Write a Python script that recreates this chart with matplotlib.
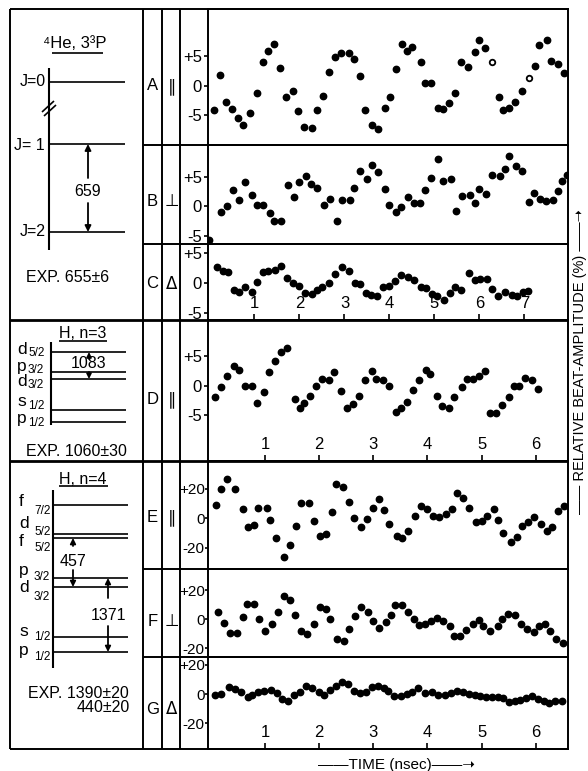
import matplotlib.pyplot as plt

plt.rcParams['font.family'] = ['Liberation Sans', 'DejaVu Sans']

# 4He 3^3P : time (nsec) and relative beat amplitude (%)
tA = [0.10, 0.23, 0.37, 0.51, 0.63, 0.75, 0.91, 1.05, 1.18, 1.31, 1.43, 1.57, 1.71, 1.86, 1.97,
      2.11, 2.27, 2.40, 2.52, 2.66, 2.80, 2.92, 3.09, 3.21, 3.34, 3.46, 3.62, 3.74, 3.89, 4.01,
      4.14, 4.28, 4.40, 4.51, 4.71, 4.79, 4.92, 5.07, 5.20, 5.33, 5.46, 5.59, 5.74, 5.89, 6.00,
      6.12, 6.27, 6.43, 6.53, 6.66, 6.79, 6.94, 7.10, 7.23, 7.32, 7.49, 7.59, 7.74, 7.87]
vA = [-4.07, 1.86, -2.77, -3.95, -5.48, -6.67, -4.63, -1.24, 4.07, 5.99, 7.12, 2.99, -1.92, -0.79,
      -4.29, -6.89, -7.06, -4.07, -1.69, 2.43, 4.97, 5.65, 5.65, 4.52, 1.64, -4.12, -6.67, -7.29,
      -3.79, -1.81, 2.88, 7.12, 5.93, 6.55, 4.12, 0.45, 0.56, -3.79, -3.95, -2.82, -1.13, 4.01,
      3.28, 5.82, 7.74, 6.44, 4.07, -1.86, -4.07, -3.79, -2.77, -0.85, 1.30, 3.39, 6.95, 7.80,
      4.18, 3.79, 2.15]
A_open = [46, 52]

tB = [0.00, 0.26, 0.39, 0.52, 0.66, 0.79, 0.94, 1.06, 1.20, 1.34, 1.44, 1.59, 1.74, 1.87, 2.00,
      2.14, 2.26, 2.39, 2.54, 2.67, 2.83, 2.95, 3.12, 3.22, 3.34, 3.50, 3.62, 3.75, 3.89, 4.00,
      4.14, 4.26, 4.41, 4.54, 4.68, 4.80, 4.93, 5.07, 5.19, 5.36, 5.48, 5.61, 5.78, 5.89, 6.00,
      6.14, 6.28, 6.45, 6.56, 6.66, 6.81, 6.95, 7.10, 7.22, 7.34, 7.47, 7.63, 7.75, 7.83, 7.94]
vB = [-5.70, -0.93, 0.03, 2.80, 1.10, 4.10, 1.89, 0.20, 0.20, -1.16, -2.40, -2.40, 3.59, 1.67,
      4.15, 5.23, 3.81, 3.08, 0.25, 1.21, -2.40, 1.10, 1.10, 3.08, 6.07, 4.60, 6.98, 5.90, 2.91,
      0.31, -0.99, -0.03, 1.67, 0.54, 0.54, 2.80, 4.89, 8.11, 4.38, 4.60, -0.71, 1.78, 1.89, 0.54,
      2.97, 2.12, 5.40, 5.17, 6.30, 8.62, 6.86, 6.02, 0.71, 2.23, 1.27, 0.88, 1.10, 2.63, 4.32, 5.34]

tC = [0.16, 0.29, 0.42, 0.54, 0.66, 0.80, 0.94, 1.06, 1.18, 1.31, 1.46, 1.60, 1.72, 1.86, 2.00,
      2.13, 2.27, 2.39, 2.51, 2.66, 2.80, 2.94, 3.10, 3.23, 3.34, 3.47, 3.60, 3.73, 3.85, 3.99,
      4.12, 4.26, 4.41, 4.54, 4.69, 4.81, 4.94, 5.06, 5.21, 5.34, 5.46, 5.60, 5.76, 5.89, 6.02,
      6.17, 6.27, 6.42, 6.57, 6.72, 6.84, 6.96, 7.07]
vC = [2.64, 1.92, 1.81, -1.25, -1.64, -0.81, -1.53, 0.14, 1.81, 1.97, 2.08, 2.75, 0.69, -0.14,
      -0.58, -1.69, -1.86, -1.25, -0.69, -0.14, 1.36, 2.64, 1.92, -0.14, -0.25, -1.69, -2.08,
      -2.19, -0.81, -0.58, 0.25, 1.19, 0.86, 0.42, -0.81, -0.97, -1.97, -2.19, -2.92, -1.81,
      -0.69, -1.25, 1.64, 0.42, 0.53, 0.53, -1.14, -2.25, -1.58, -2.08, -2.25, -1.64, -1.42]

# H n=3
tD = [0.08, 0.19, 0.30, 0.43, 0.53, 0.63, 0.76, 0.86, 0.98, 1.08, 1.19, 1.29, 1.41, 1.56, 1.64,
      1.73, 1.84, 1.95, 2.05, 2.18, 2.28, 2.41, 2.52, 2.62, 2.74, 2.85, 2.97, 3.06, 3.18, 3.30,
      3.42, 3.52, 3.62, 3.73, 3.84, 3.97, 4.05, 4.17, 4.27, 4.39, 4.50, 4.64, 4.73, 4.84, 4.95,
      5.06, 5.15, 5.27, 5.37, 5.50, 5.59, 5.69, 5.80, 5.94, 6.05]
vD = [-1.85, -0.17, 1.57, 3.31, 2.58, -0.11, -0.11, -2.98, -1.07, 2.30, 4.21, 5.62, 6.29, -2.30,
      -3.82, -2.98, -1.80, 0.00, 1.18, 1.01, 2.30, -0.90, -3.82, -3.15, -1.74, 0.90, 2.42, 1.07,
      0.96, 0.00, -4.49, -3.82, -2.75, -0.73, 0.90, 2.70, 1.97, -1.69, -3.37, -3.82, -1.97, -0.28,
      1.12, 1.12, 1.69, 2.53, -4.66, -4.66, -3.26, -1.85, 0.00, 0.00, 1.24, 1.01, -0.56]

# H n=4
tE = [0.10, 0.19, 0.30, 0.45, 0.59, 0.68, 0.80, 0.88, 1.03, 1.09, 1.21, 1.36, 1.47, 1.58, 1.67,
      1.82, 1.91, 2.01, 2.13, 2.23, 2.31, 2.44, 2.56, 2.65, 2.77, 2.89, 3.00, 3.10, 3.20, 3.30,
      3.43, 3.54, 3.64, 3.77, 3.88, 3.99, 4.11, 4.22, 4.34, 4.45, 4.54, 4.65, 4.76, 4.89, 5.00,
      5.10, 5.23, 5.31, 5.40, 5.54, 5.66, 5.75, 5.86, 5.97, 6.09, 6.20, 6.30, 6.41, 6.52]
vE = [9.0, 19.6, 26.5, 19.6, 6.3, -5.8, -4.5, 6.7, 7.2, -1.3, -13.3, -25.8, -18.2, -4.9, 10.1,
      10.1, -1.8, -12.1, -10.6, 4.3, 23.4, 21.3, 11.2, 0.4, -5.8, -0.7, 7.2, 13.3, 5.6, -3.6,
      -11.7, -13.0, -8.3, 1.6, 8.5, 6.3, 1.6, 0.7, 2.9, 6.5, 17.1, 13.5, 6.7, -2.2, -1.6, 1.3,
      6.3, -1.3, -9.9, -15.7, -12.8, -5.2, -2.7, 0.7, -3.6, -8.3, -5.6, 4.9, 8.5]

tF = [0.14, 0.25, 0.36, 0.48, 0.59, 0.67, 0.79, 0.89, 1.00, 1.13, 1.24, 1.35, 1.47, 1.56, 1.67,
      1.77, 1.91, 2.01, 2.12, 2.20, 2.34, 2.46, 2.55, 2.67, 2.77, 2.90, 3.00, 3.11, 3.23, 3.32,
      3.41, 3.53, 3.65, 3.75, 3.85, 3.96, 4.06, 4.17, 4.28, 4.41, 4.49, 4.60, 4.71, 4.85, 4.95,
      5.03, 5.16, 5.30, 5.37, 5.48, 5.62, 5.72, 5.84, 5.96, 6.06, 6.17, 6.27, 6.38, 6.50]
vF = [5.1, -2.3, -9.4, -9.4, 1.4, 10.3, 10.3, 0.0, -8.3, -3.4, 5.1, 16.1, 13.3, 2.8, -8.3, -10.1,
      -3.4, 8.3, 7.4, 0.5, -13.3, -14.7, -6.9, 2.1, 8.7, 5.3, -1.4, -6.0, -1.8, 3.0, 10.1, 9.7,
      5.1, 0.0, -4.1, -3.2, -1.4, 0.9, -0.9, -4.6, -11.5, -11.5, -7.1, -3.2, -0.2, -4.8, -7.8,
      -4.6, 0.0, 3.7, 3.2, -3.0, -6.9, -9.0, -4.6, -3.4, -7.8, -13.8, -16.6]

tG = [0.08, 0.19, 0.34, 0.45, 0.56, 0.68, 0.77, 0.88, 0.99, 1.11, 1.22, 1.31, 1.42, 1.54, 1.65,
      1.76, 1.87, 1.99, 2.09, 2.21, 2.31, 2.42, 2.54, 2.65, 2.76, 2.87, 2.97, 3.08, 3.19, 3.28,
      3.39, 3.51, 3.62, 3.72, 3.83, 3.96, 4.08, 4.20, 4.33, 4.44, 4.54, 4.65, 4.76, 4.87, 4.98,
      5.08, 5.19, 5.30, 5.40, 5.50, 5.61, 5.71, 5.82, 5.94, 6.05, 6.15, 6.25, 6.36, 6.48]
vG = [-0.7, 0.0, 4.6, 3.2, 1.6, -1.8, -0.7, 1.1, 2.3, 2.7, 0.5, -3.4, -4.8, -0.7, 1.6, 5.7, 3.9,
      1.1, -0.7, 2.7, 5.7, 8.5, 6.6, 2.1, 0.5, 1.1, 5.0, 5.7, 4.3, 2.3, -1.4, -1.4, 0.0, 1.6, 3.9,
      0.9, 1.6, -0.7, -0.7, 0.9, 2.1, 1.6, 0.0, -0.7, -1.1, -1.8, -2.3, -2.3, -3.0, -5.3, -4.8,
      -4.1, -3.0, -1.4, -3.4, -4.8, -5.9, -4.6, -4.6]

ticks5 = [5, 0, -5]
labels5 = ['+5', '0', '-5']
ticks20 = [20, 0, -20]
labels20 = ['+20', '0', '-20']
he_times = [1, 2, 3, 4, 5, 6, 7]
h_times = [1, 2, 3, 4, 5, 6]

W, H = 588, 771
fig = plt.figure(figsize=(W / 100, H / 100), dpi=100)

# background axes in pixel units for the frame and level diagrams
bg = fig.add_axes([0, 0, 1, 1])
bg.set_xlim(0, W)
bg.set_ylim(H, 0)
bg.axis('off')


def line(x0, y0, x1, y1, lw=1.4):
    bg.plot([x0, x1], [y0, y1], color='k', lw=lw, solid_capstyle='butt')


def arrow(x, y_from, y_to, ms=9):
    bg.annotate('', xy=(x, y_to), xytext=(x, y_from),
                arrowprops=dict(arrowstyle='-|>', color='k', lw=1.3, mutation_scale=ms,
                                shrinkA=0, shrinkB=0))


def txt(x, y, s, size=11.5, ha='center', **kw):
    bg.text(x, y, s, fontsize=size, ha=ha, va='center', **kw)


# frame
line(10, 9, 568, 9)
line(10, 749, 568, 749)
line(10, 9, 10, 749)
for x in (143, 162, 180):
    line(x, 9, x, 749)
for y in (145, 244, 569, 657):
    line(143, y, 568, y)
for y in (320, 461):
    line(10, y, 568, y, lw=2)

# --- 4He 3^3P diagram
txt(75, 43, '⁴He, 3³P', size=12)
line(52, 53, 103, 53, lw=1.2)
line(49, 68, 49, 250, lw=1.5)
for y in (82, 144, 232):
    line(49, y, 125, y, lw=1.2)
line(42, 112, 54, 101, lw=1.2)
line(44, 116, 56, 105, lw=1.2)
txt(46, 82, 'J=0', ha='right')
txt(45, 145, 'J= 1', ha='right')
txt(46, 232, 'J=2', ha='right')
arrow(88, 178, 144)
arrow(88, 203, 232)
txt(88, 191, '659')
txt(68, 277, 'EXP. 655±6')

# --- H n=3 diagram
txt(83, 334, 'H, n=3')
line(59, 341, 107, 341, lw=1.2)
line(51, 342, 51, 425, lw=1.5)
for y in (352, 372, 379, 410, 422):
    line(51, y, 126, y, lw=1.2)
for letter, sub, y in (('d', '5/2', 349), ('p', '3/2', 366), ('d', '3/2', 381),
                       ('s', '1/2', 402), ('p', '1/2', 419)):
    txt(17, y, letter, ha='left', size=12.5)
    txt(28, y + 4, sub, ha='left', size=8.5)
arrow(89, 359, 352, ms=7)
arrow(89, 372, 379, ms=7)
txt(89, 364, '1083')
txt(76, 452, 'EXP. 1060±30')

# --- H n=4 diagram
txt(83, 479, 'H, n=4')
line(59, 486, 108, 486, lw=1.2)
line(53, 490, 53, 668, lw=1.5)
for y in (505, 534, 538, 578, 587, 637, 652):
    line(53, y, 128, y, lw=1.2)
for letter, sub, y, ys in (('f', '7/2', 502, 511), ('d', '5/2', 523, 532), ('f', '5/2', 541, 548),
                           ('p', '3/2', 571, 577), ('d', '3/2', 588, 597), ('s', '1/2', 631, 637),
                           ('p', '1/2', 651, 657)):
    txt(19, y, letter, ha='left', size=12.5)
    txt(34, ys, sub, ha='left', size=8.5)
arrow(73, 546, 538, ms=8)
arrow(73, 570, 587, ms=8)
txt(73, 561, '457')
arrow(108, 598, 578, ms=8)
arrow(108, 626, 652, ms=8)
txt(108, 615, '1371')
txt(28, 693, 'EXP. 1390±20', ha='left')
txt(130, 708, '440±20', ha='right')

# panel letters and polarisation symbols
for letter, sym, y in (('A', '∥', 86), ('B', '⊥', 201), ('C', 'Δ', 284), ('D', '∥', 399),
                       ('E', '∥', 517), ('F', '⊥', 621), ('G', 'Δ', 709)):
    txt(152.5, y, letter, size=12)
    txt(171.5, y, sym, size=12, family=['DejaVu Sans'])

txt(580, 362, '—— RELATIVE BEAT-AMPLITUDE (%) ——➝', size=10.5, rotation=90,
    family=['Liberation Sans', 'DejaVu Sans'])
txt(396, 765, '——TIME (nsec)——➝', size=11, family=['Liberation Sans', 'DejaVu Sans'])

# data panels: (t, v, top px, bottom px, ylim, yticks, ylabels, xlim, xticks)
he_xlim = (-0.033, 7.967)
h_xlim = (-0.05, 6.596)
panels = [
    (tA, vA, 9, 145, (-10.0, 13.05), ticks5, labels5, he_xlim, None),
    (tB, vB, 145, 244, (-6.36, 10.42), ticks5, labels5, he_xlim, None),
    (tC, vC, 244, 320, (-6.25, 6.42), ticks5, labels5, he_xlim, he_times),
    (tD, vD, 320, 461, (-12.7, 11.08), ticks5, labels5, h_xlim, h_times),
    (tE, vE, 461, 569, (-34.2, 38.6), ticks20, labels20, h_xlim, None),
    (tF, vF, 569, 657, (-26.0, 34.7), ticks20, labels20, h_xlim, None),
    (tG, vG, 657, 749, (-37.7, 25.4), ticks20, labels20, h_xlim, h_times),
]

for i, (t, v, top, bot, ylim, yt, yl, xl, xt) in enumerate(panels):
    ax = fig.add_axes([208 / W, 1 - bot / H, 360 / W, (bot - top) / H])
    ax.set_facecolor('none')
    if i == 0:
        filled = [k for k in range(len(t)) if k not in A_open]
        ax.plot([t[k] for k in filled], [v[k] for k in filled], 'o', color='k', ms=4.6)
        ax.plot([t[k] for k in A_open], [v[k] for k in A_open], 'o', color='k', mfc='white',
                ms=4.0, mew=1.3)
    else:
        ax.plot(t, v, 'o', color='k', ms=4.6)
    ax.set_xlim(xl)
    ax.set_ylim(ylim)
    ax.set_yticks(yt, labels=yl)
    big = yt is ticks20
    ax.tick_params(axis='y', direction='out', length=3 if not big else 2, width=1.2,
                   pad=1.5 if not big else 0.3, labelsize=12 if not big else 11)
    if xt:
        ax.set_xticks(xt)
        ax.tick_params(axis='x', direction='in', length=4, width=1.2, pad=-17, labelsize=12)
    else:
        ax.set_xticks([])
    for s in ax.spines.values():
        s.set_linewidth(1.4)

fig.savefig('out.png', dpi=100)
